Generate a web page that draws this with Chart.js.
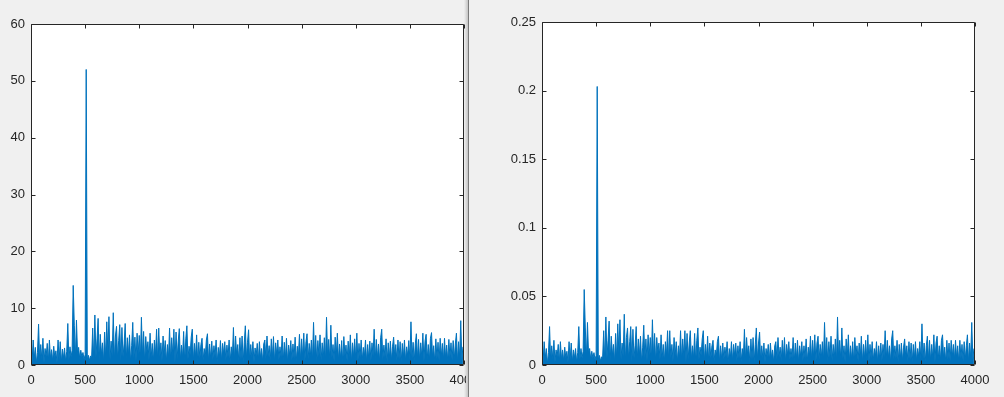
<!DOCTYPE html>
<html>
<head>
<meta charset="utf-8">
<script src="https://cdn.jsdelivr.net/npm/chart.js@4"></script>
<style>
  html, body { margin: 0; padding: 0; background: #f0f0f0; }
  body { width: 1004px; height: 397px; position: relative; overflow: hidden; }
  #leftBox { position: absolute; left: 0; top: 0; width: 466px; height: 397px; }
  #rightBox { position: absolute; left: 469px; top: 0; width: 535px; height: 397px; }
  #shadow { position: absolute; left: 464px; top: 0; width: 4px; height: 397px;
            background: linear-gradient(to right, rgba(0,0,0,0), rgba(0,0,0,0.18)); }
  #divider { position: absolute; left: 468px; top: 0; width: 1px; height: 397px; background: #7a7a7a; }
</style>
</head>
<body>
<div id="leftBox"><canvas id="leftChart" width="466" height="397"></canvas></div>
<div id="shadow"></div>
<div id="divider"></div>
<div id="rightBox"><canvas id="rightChart" width="535" height="397"></canvas></div>
<script>
// samples are plotted every 10 indices (x = sample index, 0..4000)
const sampleStep = 10;
const xTicks = [0, 500, 1000, 1500, 2000, 2500, 3000, 3500, 4000];
const leftYTicks = [0, 10, 20, 30, 40, 50, 60];
const rightYTicks = [0, 0.05, 0.1, 0.15, 0.2, 0.25];

// left plot: raw magnitude
const leftValues = [
  2.6, 0.5, 4.4, 1.2, 3.1, 0.3, 2.2, 7.2, 0.8, 3.6, 1.0, 4.7, 0.4, 2.9, 1.5, 3.8, 0.6, 4.4, 1.1, 2.7,
  0.7, 3.3, 1.3, 2.5, 0.4, 4.4, 0.9, 4.1, 0.5, 2.8, 1.2, 3.0, 0.6, 2.4, 7.3, 0.9, 3.2, 1.4, 2.6, 14.0,
  7.0, 1.2, 7.9, 2.0, 3.1, 1.1, 2.6, 1.4, 2.2, 1.0, 1.8, 52.0, 0.9, 1.7, 0.8, 1.6, 1.2, 6.5, 0.6, 8.8,
  1.3, 4.6, 8.2, 0.7, 5.4, 1.8, 3.9, 0.5, 5.8, 1.1, 7.6, 2.3, 8.5, 0.9, 4.2, 1.6, 9.2, 0.8, 5.1, 6.8,
  1.0, 4.3, 7.1, 0.6, 6.6, 1.4, 3.7, 7.3, 0.9, 4.8, 1.7, 5.3, 0.5, 3.4, 7.5, 1.2, 4.9, 0.7, 5.6, 1.9,
  5.2, 0.8, 8.4, 1.5, 5.9, 0.4, 5.0, 2.2, 4.1, 0.9, 5.6, 1.3, 3.8, 0.6, 4.4, 1.7, 6.3, 0.8, 6.5, 1.4,
  3.9, 0.7, 5.1, 1.9, 4.3, 0.5, 3.6, 1.2, 6.5, 0.8, 4.8, 1.6, 6.3, 0.4, 5.8, 1.1, 4.2, 6.4, 0.9, 3.5,
  1.3, 5.9, 0.6, 4.6, 6.9, 1.0, 3.3, 1.8, 4.9, 6.3, 0.7, 3.8, 1.4, 5.3, 0.5, 4.0, 1.2, 3.6, 4.7, 0.8,
  2.9, 1.5, 4.4, 5.5, 0.6, 3.7, 1.1, 4.2, 0.9, 3.4, 1.6, 4.4, 0.4, 3.1, 1.3, 4.3, 0.7, 3.8, 1.9, 4.1,
  0.8, 3.5, 1.4, 4.4, 0.5, 3.2, 1.2, 6.6, 0.9, 5.1, 1.7, 3.6, 0.6, 4.8, 1.0, 5.1, 0.4, 3.9, 6.9, 1.1,
  4.0, 6.2, 0.7, 3.6, 1.3, 4.1, 0.5, 3.0, 1.6, 3.8, 0.8, 4.1, 1.2, 2.9, 0.6, 3.7, 4.4, 1.0, 5.1, 1.5,
  3.4, 0.7, 4.6, 1.3, 5.0, 0.5, 3.9, 1.8, 4.4, 0.9, 3.2, 1.4, 5.1, 0.6, 4.0, 1.1, 4.7, 0.4, 3.5, 1.6,
  4.3, 0.8, 3.7, 1.2, 4.9, 0.5, 3.3, 1.5, 5.4, 0.9, 4.6, 1.3, 5.6, 0.6, 4.1, 5.5, 1.0, 3.8, 1.4, 4.4,
  0.7, 7.5, 1.1, 5.2, 0.5, 4.3, 1.6, 5.3, 0.8, 3.9, 1.2, 4.8, 0.6, 8.4, 1.4, 4.5, 0.9, 7.0, 1.3, 3.6,
  0.6, 4.9, 1.5, 5.6, 0.8, 3.7, 1.1, 4.3, 0.4, 5.0, 1.7, 3.5, 0.7, 4.2, 1.2, 5.3, 0.5, 3.9, 1.4, 4.6,
  1.0, 5.6, 0.6, 3.8, 1.3, 4.4, 0.8, 3.1, 1.5, 4.4, 0.5, 3.6, 1.1, 4.2, 0.7, 3.9, 1.6, 6.3, 0.9, 4.5,
  1.2, 3.7, 0.6, 4.8, 6.3, 0.9, 3.5, 1.4, 4.6, 0.5, 3.9, 1.1, 4.2, 0.8, 3.3, 4.9, 1.5, 3.6, 0.7, 4.4,
  1.0, 4.1, 0.5, 3.8, 1.3, 4.4, 0.7, 3.2, 1.6, 4.3, 0.9, 7.6, 1.2, 4.0, 0.6, 3.7, 5.5, 1.1, 4.5, 0.8,
  3.9, 1.4, 5.6, 0.6, 4.2, 5.4, 1.0, 3.6, 0.8, 4.7, 5.7, 1.3, 3.4, 0.5, 4.6, 1.1, 4.0, 0.7, 4.7, 1.5,
  3.8, 0.9, 4.7, 1.2, 3.5, 0.6, 4.5, 1.4, 3.9, 0.8, 4.3, 1.0, 3.7, 5.6, 0.5, 4.1, 1.3, 7.8, 0.9, 3.2
];

// right plot: normalised magnitude
const rightValues = [
  0.010, 0.002, 0.017, 0.005, 0.012, 0.001, 0.009, 0.028, 0.003, 0.014, 0.004, 0.018, 0.002, 0.011, 0.006, 0.015, 0.002, 0.017, 0.004, 0.011,
  0.003, 0.013, 0.005, 0.010, 0.002, 0.017, 0.004, 0.016, 0.002, 0.011, 0.005, 0.012, 0.002, 0.009, 0.028, 0.004, 0.012, 0.005, 0.010, 0.055,
  0.027, 0.005, 0.031, 0.008, 0.012, 0.004, 0.010, 0.005, 0.009, 0.004, 0.007, 0.203, 0.004, 0.007, 0.003, 0.006, 0.005, 0.025, 0.002, 0.035,
  0.005, 0.018, 0.032, 0.003, 0.021, 0.007, 0.015, 0.002, 0.023, 0.004, 0.030, 0.009, 0.033, 0.004, 0.016, 0.006, 0.037, 0.003, 0.020, 0.027,
  0.004, 0.017, 0.028, 0.002, 0.026, 0.005, 0.014, 0.028, 0.004, 0.019, 0.007, 0.021, 0.002, 0.013, 0.029, 0.005, 0.019, 0.003, 0.022, 0.007,
  0.020, 0.003, 0.033, 0.006, 0.023, 0.002, 0.020, 0.009, 0.016, 0.004, 0.022, 0.005, 0.015, 0.002, 0.017, 0.007, 0.025, 0.003, 0.025, 0.005,
  0.015, 0.003, 0.020, 0.007, 0.017, 0.002, 0.014, 0.005, 0.025, 0.003, 0.019, 0.006, 0.025, 0.002, 0.023, 0.004, 0.016, 0.025, 0.004, 0.014,
  0.005, 0.023, 0.002, 0.018, 0.027, 0.004, 0.013, 0.007, 0.019, 0.025, 0.003, 0.015, 0.005, 0.021, 0.002, 0.016, 0.005, 0.014, 0.018, 0.003,
  0.011, 0.006, 0.017, 0.021, 0.002, 0.014, 0.004, 0.016, 0.004, 0.013, 0.006, 0.017, 0.002, 0.012, 0.005, 0.017, 0.003, 0.015, 0.007, 0.016,
  0.003, 0.014, 0.005, 0.017, 0.002, 0.012, 0.005, 0.026, 0.004, 0.020, 0.007, 0.014, 0.002, 0.019, 0.004, 0.020, 0.002, 0.015, 0.027, 0.004,
  0.016, 0.024, 0.003, 0.014, 0.005, 0.016, 0.002, 0.012, 0.006, 0.015, 0.003, 0.016, 0.005, 0.011, 0.002, 0.014, 0.017, 0.004, 0.020, 0.006,
  0.013, 0.003, 0.018, 0.005, 0.020, 0.002, 0.015, 0.007, 0.017, 0.004, 0.012, 0.005, 0.020, 0.002, 0.016, 0.004, 0.018, 0.002, 0.014, 0.006,
  0.017, 0.003, 0.014, 0.005, 0.019, 0.002, 0.013, 0.006, 0.021, 0.004, 0.018, 0.005, 0.022, 0.002, 0.016, 0.021, 0.004, 0.015, 0.005, 0.017,
  0.003, 0.031, 0.004, 0.020, 0.002, 0.017, 0.006, 0.021, 0.003, 0.015, 0.005, 0.019, 0.002, 0.035, 0.005, 0.018, 0.004, 0.027, 0.005, 0.014,
  0.002, 0.019, 0.006, 0.022, 0.003, 0.014, 0.004, 0.017, 0.002, 0.020, 0.007, 0.014, 0.003, 0.016, 0.005, 0.021, 0.002, 0.015, 0.005, 0.018,
  0.004, 0.022, 0.002, 0.015, 0.005, 0.017, 0.003, 0.012, 0.006, 0.017, 0.002, 0.014, 0.004, 0.016, 0.003, 0.015, 0.006, 0.025, 0.004, 0.018,
  0.005, 0.014, 0.002, 0.019, 0.025, 0.004, 0.014, 0.005, 0.018, 0.002, 0.015, 0.004, 0.016, 0.003, 0.013, 0.019, 0.006, 0.014, 0.003, 0.017,
  0.004, 0.016, 0.002, 0.015, 0.005, 0.017, 0.003, 0.012, 0.006, 0.017, 0.004, 0.030, 0.005, 0.016, 0.002, 0.014, 0.021, 0.004, 0.018, 0.003,
  0.015, 0.005, 0.022, 0.002, 0.016, 0.021, 0.004, 0.014, 0.003, 0.018, 0.022, 0.005, 0.013, 0.002, 0.018, 0.004, 0.016, 0.003, 0.018, 0.006,
  0.015, 0.004, 0.018, 0.005, 0.014, 0.002, 0.018, 0.005, 0.015, 0.003, 0.017, 0.004, 0.014, 0.022, 0.002, 0.016, 0.005, 0.031, 0.004, 0.012
];

const lineColor = '#0072BD';
const bandColor = '#0072BD';
const axisColor = '#262626';

Chart.defaults.font.family = '"Liberation Sans", Arial, Helvetica, sans-serif';
Chart.defaults.font.size = 13;
Chart.defaults.color = axisColor;

// white axes background + MATLAB style box with inward ticks
const framePlugin = {
  id: 'frame',
  beforeDraw(chart) {
    const { ctx, chartArea: a } = chart;
    ctx.save();
    ctx.fillStyle = '#ffffff';
    ctx.fillRect(a.left, a.top, a.right - a.left, a.bottom - a.top);
    ctx.restore();
  },
  afterDraw(chart) {
    const { ctx, chartArea: a, scales } = chart;
    const L = Math.round(a.left) + 0.5, R = Math.round(a.right) - 0.5;
    const T = Math.round(a.top) + 0.5, B = Math.round(a.bottom) - 0.5;
    const tickLen = 4;
    ctx.save();
    ctx.strokeStyle = axisColor;
    ctx.lineWidth = 1;
    ctx.beginPath();
    ctx.rect(L, T, R - L, B - T);
    scales.x.ticks.forEach(t => {
      const px = Math.round(scales.x.getPixelForValue(t.value)) + 0.5;
      ctx.moveTo(px, B); ctx.lineTo(px, B - tickLen);
      ctx.moveTo(px, T); ctx.lineTo(px, T + tickLen);
    });
    scales.y.ticks.forEach(t => {
      const py = Math.round(scales.y.getPixelForValue(t.value)) + 0.5;
      ctx.moveTo(L, py); ctx.lineTo(L + tickLen, py);
      ctx.moveTo(R, py); ctx.lineTo(R - tickLen, py);
    });
    ctx.stroke();
    ctx.restore();
  }
};

function makeChart(id, values, yTicks, yMax, yWidth, pad) {
  const points = values.map((v, i) => ({ x: i * sampleStep, y: v }));
  return new Chart(document.getElementById(id), {
    type: 'line',
    data: {
      datasets: [{
        data: points,
        borderColor: lineColor,
        backgroundColor: bandColor,
        borderWidth: 1,
        pointRadius: 0,
        tension: 0,
        fill: 'origin'
      }]
    },
    options: {
      responsive: false,
      animation: false,
      events: [],
      layout: { padding: pad },
      plugins: { legend: { display: false }, tooltip: { enabled: false } },
      scales: {
        x: {
          type: 'linear',
          min: 0,
          max: 4000,
          afterBuildTicks: s => { s.ticks = xTicks.map(v => ({ value: v })); },
          ticks: { autoSkip: false, maxRotation: 0, padding: 8, callback: v => String(v) },
          grid: { display: false, drawTicks: false },
          border: { display: false },
          afterFit: s => { s.height = 32; s.paddingLeft = 0; s.paddingRight = 0; }
        },
        y: {
          min: 0,
          max: yMax,
          afterBuildTicks: s => { s.ticks = yTicks.map(v => ({ value: v })); },
          ticks: { padding: 6, callback: v => String(v) },
          grid: { display: false, drawTicks: false },
          border: { display: false },
          afterFit: s => { s.width = yWidth; s.paddingTop = 0; s.paddingBottom = 0; }
        }
      }
    },
    plugins: [framePlugin]
  });
}

makeChart('leftChart', leftValues, leftYTicks, 60, 31, { top: 24, right: 2, left: 0, bottom: 0 });
makeChart('rightChart', rightValues, rightYTicks, 0.25, 73, { top: 22, right: 29, left: 0, bottom: 0 });
</script>
</body>
</html>
